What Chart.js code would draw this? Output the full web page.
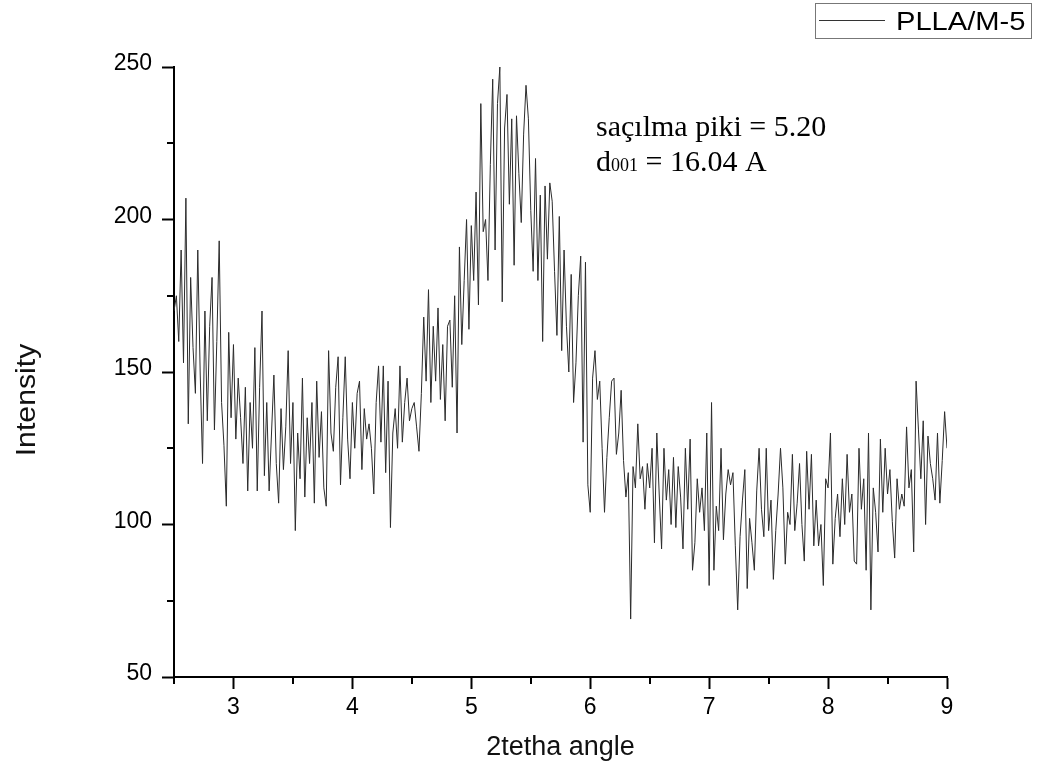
<!DOCTYPE html>
<html><head><meta charset="utf-8">
<script src="https://cdn.jsdelivr.net/npm/chart.js@4.4.1/dist/chart.umd.min.js"></script>
<style>html,body{margin:0;padding:0;background:#fff;} #wrap{width:1037px;height:776px;position:relative;}</style>
</head><body><div id="wrap"><canvas id="c" width="1037" height="776"></canvas></div>
<script>
const twoTheta = [
2.50,2.52,2.54,2.56,2.58,2.60,2.62,2.64,2.66,2.68,
2.70,2.72,2.74,2.76,2.78,2.80,2.82,2.84,2.86,2.88,
2.90,2.92,2.94,2.96,2.98,3.00,3.02,3.04,3.06,3.08,
3.10,3.12,3.14,3.16,3.18,3.20,3.22,3.24,3.26,3.28,
3.30,3.32,3.34,3.36,3.38,3.40,3.42,3.44,3.46,3.48,
3.50,3.52,3.54,3.56,3.58,3.60,3.62,3.64,3.66,3.68,
3.70,3.72,3.74,3.76,3.78,3.80,3.82,3.84,3.86,3.88,
3.90,3.92,3.94,3.96,3.98,4.00,4.02,4.04,4.06,4.08,
4.10,4.12,4.14,4.16,4.18,4.20,4.22,4.24,4.26,4.28,
4.30,4.32,4.34,4.36,4.38,4.40,4.42,4.44,4.46,4.48,
4.50,4.52,4.54,4.56,4.58,4.60,4.62,4.64,4.66,4.68,
4.70,4.72,4.74,4.76,4.78,4.80,4.82,4.84,4.86,4.88,
4.90,4.92,4.94,4.96,4.98,5.00,5.02,5.04,5.06,5.08,
5.10,5.12,5.14,5.16,5.18,5.20,5.22,5.24,5.26,5.28,
5.30,5.32,5.34,5.36,5.38,5.40,5.42,5.44,5.46,5.48,
5.50,5.52,5.54,5.56,5.58,5.60,5.62,5.64,5.66,5.68,
5.70,5.72,5.74,5.76,5.78,5.80,5.82,5.84,5.86,5.88,
5.90,5.92,5.94,5.96,5.98,6.00,6.02,6.04,6.06,6.08,
6.10,6.12,6.14,6.16,6.18,6.20,6.22,6.24,6.26,6.28,
6.30,6.32,6.34,6.36,6.38,6.40,6.42,6.44,6.46,6.48,
6.50,6.52,6.54,6.56,6.58,6.60,6.62,6.64,6.66,6.68,
6.70,6.72,6.74,6.76,6.78,6.80,6.82,6.84,6.86,6.88,
6.90,6.92,6.94,6.96,6.98,7.00,7.02,7.04,7.06,7.08,
7.10,7.12,7.14,7.16,7.18,7.20,7.22,7.24,7.26,7.28,
7.30,7.32,7.34,7.36,7.38,7.40,7.42,7.44,7.46,7.48,
7.50,7.52,7.54,7.56,7.58,7.60,7.62,7.64,7.66,7.68,
7.70,7.72,7.74,7.76,7.78,7.80,7.82,7.84,7.86,7.88,
7.90,7.92,7.94,7.96,7.98,8.00,8.02,8.04,8.06,8.08,
8.10,8.12,8.14,8.16,8.18,8.20,8.22,8.24,8.26,8.28,
8.30,8.32,8.34,8.36,8.38,8.40,8.42,8.44,8.46,8.48,
8.50,8.52,8.54,8.56,8.58,8.60,8.62,8.64,8.66,8.68,
8.70,8.72,8.74,8.76,8.78,8.80,8.82,8.84,8.86,8.88,
8.90,8.92,8.94,8.96,8.98,9.00
];
const intensity = [
170,175,160,190,153,207,133,181,158,143,
190,150,120,170,134,165,181,131,160,193,
140,126,106,163,135,159,128,148,135,120,
145,111,140,125,158,111,145,170,116,140,
111,130,149,120,107,138,118,132,157,120,
140,98,130,115,148,109,135,120,140,107,
147,122,137,112,106,157,130,124,145,155,
113,135,155,128,115,140,125,143,147,118,
138,128,133,125,110,140,152,127,152,117,
147,99,130,138,125,152,127,140,148,134,
138,140,132,124,143,168,147,177,140,165,
147,171,141,159,134,165,167,145,175,130,
191,159,180,200,164,198,180,209,172,238,
196,200,180,218,246,190,238,250,173,230,
241,205,233,185,234,215,199,228,244,233,
203,183,220,180,208,160,211,187,212,206,
183,162,201,157,190,165,150,182,140,153,
175,188,127,186,113,104,148,157,141,147,
125,104,122,135,147,148,123,130,144,121,
109,117,69,119,112,133,115,119,105,120,
112,125,94,130,110,92,125,108,118,100,
122,99,119,109,92,125,105,128,85,94,
115,104,112,98,130,80,140,85,106,98,
125,95,110,118,113,117,93,72,96,108,
118,79,102,94,85,111,125,105,96,125,
98,108,82,98,110,125,112,87,104,100,
123,98,107,120,100,88,124,105,123,93,
108,93,100,80,115,112,130,87,102,110,
96,115,100,123,104,110,88,87,125,105,
115,85,130,72,112,104,91,128,104,125,
110,118,101,89,115,105,110,106,132,112,
118,91,147,131,115,134,100,129,120,115,
108,130,107,121,137,125
];
const xMajorTicks = [3,4,5,6,7,8,9];
const xMinorTicks = [2.5,3.5,4.5,5.5,6.5,7.5,8.5];
const yMajorTicks = [50,100,150,200,250];
const yMinorTicks = [75,125,175,225];
const seriesName = 'PLLA/M-5';
const xTitle = '2tetha angle';
const yTitle = 'Intensity';
const noteLine1 = 'saçılma piki = 5.20';
const noteLine2Main = 'd';
const noteLine2Sub = '001';
const noteLine2Rest = ' = 16.04 A';

const SANS = '"Liberation Sans", Arial, sans-serif';
const SERIF = '"Liberation Serif", "Times New Roman", serif';

const extras = {
  id: 'extras',
  afterDraw(chart) {
    const ctx = chart.ctx;
    const xs = chart.scales.x, ys = chart.scales.y;
    const ca = chart.chartArea;
    ctx.save();
    // minor ticks
    ctx.strokeStyle = '#000';
    ctx.lineWidth = 2;
    ctx.beginPath();
    xMinorTicks.forEach(v => {
      const px = Math.round(xs.getPixelForValue(v));
      ctx.moveTo(px, ca.bottom); ctx.lineTo(px, ca.bottom + 7);
    });
    yMinorTicks.forEach(v => {
      const py = Math.round(ys.getPixelForValue(v));
      ctx.moveTo(ca.left, py); ctx.lineTo(ca.left - 7, py);
    });
    ctx.stroke();
    // axis titles
    ctx.fillStyle = '#111';
    ctx.font = '27px ' + SANS;
    ctx.textAlign = 'center';
    ctx.textBaseline = 'middle';
    ctx.fillText(xTitle, (ca.left + ca.right) / 2, 748);
    ctx.save();
    ctx.translate(28, 400);
    ctx.rotate(-Math.PI / 2);
    ctx.scale(1.12, 1);
    ctx.fillText(yTitle, 0, 0);
    ctx.restore();
    // legend
    ctx.strokeStyle = '#777';
    ctx.lineWidth = 1;
    ctx.strokeRect(815.5, 3.5, 216, 35);
    ctx.strokeStyle = '#333';
    ctx.beginPath();
    ctx.moveTo(819, 20.5); ctx.lineTo(885, 20.5);
    ctx.stroke();
    ctx.fillStyle = '#000';
    ctx.textAlign = 'left';
    ctx.textBaseline = 'alphabetic';
    ctx.font = '26px ' + SANS;
    ctx.save();
    ctx.translate(896, 29.5);
    ctx.scale(1.12, 1);
    ctx.fillText(seriesName, 0, 0);
    ctx.restore();
    // annotation
    ctx.font = '30px ' + SERIF;
    ctx.fillText(noteLine1, 596, 136);
    let x = 596;
    ctx.fillText(noteLine2Main, x, 171);
    x += ctx.measureText(noteLine2Main).width;
    ctx.font = '18px ' + SERIF;
    ctx.fillText(noteLine2Sub, x, 171);
    x += ctx.measureText(noteLine2Sub).width;
    ctx.font = '30px ' + SERIF;
    ctx.fillText(noteLine2Rest, x, 171);
    ctx.restore();
  }
};

const pts = twoTheta.map((x, i) => ({ x: x, y: intensity[i] }));

new Chart(document.getElementById('c').getContext('2d'), {
  type: 'line',
  data: { datasets: [{ label: seriesName, data: pts, borderColor: '#2b2b2b', borderWidth: 1, pointRadius: 0, tension: 0, fill: false }] },
  options: {
    responsive: false, animation: false, devicePixelRatio: 1,
    layout: { padding: { left: 0, top: 67, right: 90, bottom: 0 } },
    plugins: { legend: { display: false }, tooltip: { enabled: false } },
    scales: {
      x: {
        type: 'linear', min: 2.5, max: 9,
        afterFit(s) { s.height = 99; },
        border: { display: true, color: '#000', width: 2 },
        grid: { drawOnChartArea: false, drawTicks: true, tickLength: 12, tickWidth: 2,
                tickColor: c => (c.tick && xMajorTicks.includes(c.tick.value)) ? '#000' : 'rgba(0,0,0,0)' },
        ticks: { stepSize: 0.5, autoSkip: false, maxRotation: 0, padding: 5, color: '#000',
                 font: { family: SANS, size: 23 },
                 callback: v => xMajorTicks.includes(v) ? String(v) : '' }
      },
      y: {
        type: 'linear', min: 50, max: 250,
        afterFit(s) { s.width = 174; },
        border: { display: true, color: '#000', width: 2 },
        grid: { drawOnChartArea: false, drawTicks: true, tickLength: 12, tickWidth: 2,
                tickColor: c => (c.tick && yMajorTicks.includes(c.tick.value)) ? '#000' : 'rgba(0,0,0,0)' },
        ticks: { stepSize: 25, autoSkip: false, padding: 10, labelOffset: -3, color: '#000',
                 font: { family: SANS, size: 23 },
                 callback: v => yMajorTicks.includes(v) ? String(v) : '' }
      }
    }
  },
  plugins: [extras]
});
</script></body></html>
